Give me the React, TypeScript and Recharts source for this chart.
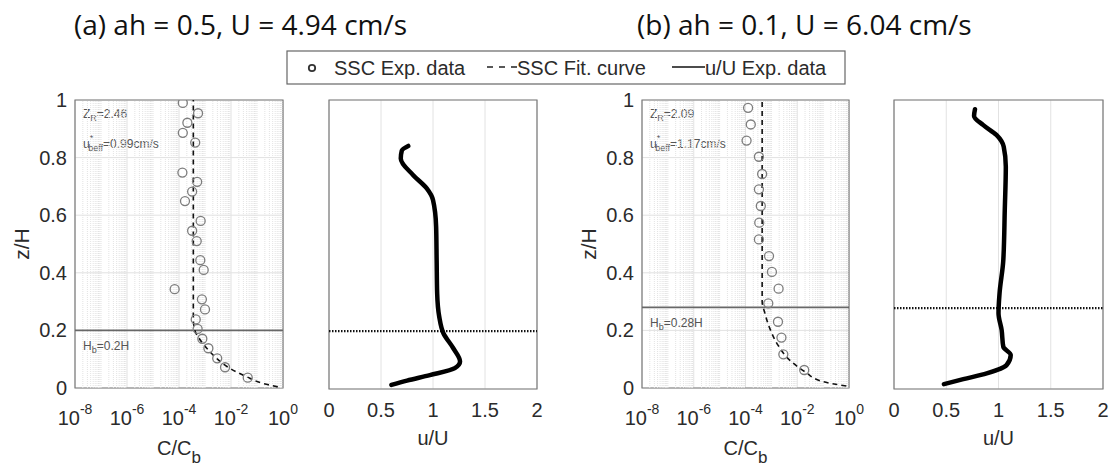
import {
  CartesianGrid,
  ComposedChart,
  Line,
  ReferenceArea,
  ReferenceLine,
  Scatter,
  XAxis,
  YAxis,
} from 'recharts';

const AXIS_FONT = '"Liberation Sans", Arial, sans-serif';
const TEXT = '#2b2b2b';
const BOX = '#7a7a7a';
const GRID = '#e2e2e2';

// [z/H, C/Cb]
const sscExpA: [number, number][] = [
  [0.036, 4.4e-2], [0.072, 5.9e-3], [0.103, 2.95e-3], [0.138, 1.35e-3], [0.171, 7.9e-4],
  [0.205, 5.2e-4], [0.238, 4.4e-4], [0.273, 1.0e-3], [0.308, 7.6e-4], [0.343, 6.8e-5],
  [0.41, 8.9e-4], [0.444, 6.6e-4], [0.51, 4.8e-4], [0.546, 3.2e-4], [0.58, 6.8e-4],
  [0.649, 1.7e-4], [0.682, 3.2e-4], [0.716, 5.0e-4], [0.748, 1.35e-4], [0.852, 4.2e-4],
  [0.886, 1.4e-4], [0.921, 2.1e-4], [0.954, 5.4e-4], [0.99, 1.4e-4],
];
const sscFitA: [number, number][] = [
  [0.004, 0.63], [0.016, 0.17], [0.039, 0.04], [0.068, 9.1e-3], [0.103, 2.8e-3],
  [0.138, 1.17e-3], [0.172, 6.0e-4], [0.196, 4.2e-4], [0.24, 3.55e-4], [1.0, 3.55e-4],
];
const sscExpB: [number, number][] = [
  [0.0625, 1.86e-2], [0.117, 2.9e-3], [0.175, 2.45e-3], [0.23, 1.8e-3], [0.294, 7.6e-4],
  [0.345, 1.9e-3], [0.403, 1.05e-3], [0.458, 8.1e-4], [0.516, 3.3e-4], [0.574, 3.4e-4],
  [0.632, 3.9e-4], [0.69, 3.3e-4], [0.743, 4.4e-4], [0.803, 3.3e-4], [0.859, 1.1e-4],
  [0.915, 1.6e-4], [0.973, 1.26e-4],
];
const sscFitB: [number, number][] = [
  [0.007, 0.79], [0.022, 0.1], [0.057, 1.95e-2], [0.097, 5.1e-3], [0.149, 1.8e-3],
  [0.207, 8.7e-4], [0.26, 5.6e-4], [0.3, 4.4e-4], [1.0, 4.4e-4],
];

// [z/H, u/U]
const velA: [number, number][] = [
  [0.014, 0.6], [0.029, 0.75], [0.048, 0.97], [0.072, 1.21], [0.095, 1.26], [0.141, 1.195],
  [0.193, 1.1], [0.25, 1.06], [0.331, 1.04], [0.446, 1.035], [0.562, 1.03], [0.654, 1.0],
  [0.694, 0.94], [0.74, 0.81], [0.798, 0.69], [0.825, 0.7], [0.841, 0.762],
];
const velB: [number, number][] = [
  [0.017, 0.478], [0.034, 0.663], [0.054, 0.887], [0.083, 1.078], [0.118, 1.117], [0.146, 1.046],
  [0.204, 1.03], [0.262, 1.0], [0.331, 1.01], [0.446, 1.046], [0.619, 1.06], [0.769, 1.07],
  [0.838, 1.05], [0.879, 0.98], [0.913, 0.855], [0.945, 0.766], [0.968, 0.775],
];

const logTicks = [1e-8, 1e-6, 1e-4, 1e-2, 1];
const zTicks = [0, 0.2, 0.4, 0.6, 0.8, 1];
const uTicks = [0, 0.5, 1, 1.5, 2];

const cases = [
  { title: '(a) ah = 0.5, U = 4.94 cm/s', zR: '2.46', uStar: '0.99', hb: 0.2, hbText: '0.2H',
    exp: sscExpA, fit: sscFitA, vel: velA },
  { title: '(b) ah = 0.1, U = 6.04 cm/s', zR: '2.09', uStar: '1.17', hb: 0.28, hbText: '0.28H',
    exp: sscExpB, fit: sscFitB, vel: velB },
];

// minor log grid: 2..9 x 10^n, plus the unlabelled decades
const minorLog: number[] = [];
for (let n = -8; n < 0; n++) {
  for (let k = 1; k < 10; k++) {
    if (k === 1 && n % 2 === 0) continue;
    minorLog.push(k * Math.pow(10, n));
  }
}

const toSsc = (rows: [number, number][]) => rows.map(([z, c]) => ({ z, c }));
const toVel = (rows: [number, number][]) => rows.map(([z, u]) => ({ z, u }));

function LogTick({ x, y, payload }: any) {
  const exp = Math.round(Math.log10(payload.value));
  return (
    <text x={x} y={y + 37} textAnchor="middle" fill={TEXT} fontSize={20} fontFamily={AXIS_FONT}>
      10<tspan dy={-11} fontSize={14}>{exp}</tspan>
    </text>
  );
}

function NumTick({ x, y, payload }: any) {
  return (
    <text x={x} y={y + 28} textAnchor="middle" fill={TEXT} fontSize={20} fontFamily={AXIS_FONT}>
      {payload.value}
    </text>
  );
}

function ZTick({ x, y, payload }: any) {
  return (
    <text x={x - 8} y={y} dy="0.35em" textAnchor="end" fill={TEXT} fontSize={20} fontFamily={AXIS_FONT}>
      {payload.value}
    </text>
  );
}

const OpenCircle = (p: any) => (
  <circle cx={p.cx} cy={p.cy} r={4.5} fill="none" stroke="#7d7d7d" strokeWidth={1.3} />
);

const PLOT_TOP = 100;
const PAD_L = 75;
const PAD_T = 10;
const PAD_R = 30;
const X_AXIS_H = 80;

function SscPanel({ left, width, height, c }: { left: number; width: number; height: number; c: typeof cases[0] }) {
  return (
    <div style={{ position: 'absolute', left: left - PAD_L, top: PLOT_TOP - PAD_T }}>
      <ComposedChart
        width={PAD_L + width + PAD_R}
        height={PAD_T + height + X_AXIS_H}
        margin={{ top: PAD_T, right: PAD_R, left: 15, bottom: 0 }}
      >
        <CartesianGrid stroke={GRID} />
        {minorLog.map((v) => (
          <ReferenceLine key={v} x={v} stroke="#e3e3e3" strokeDasharray="1 1" />
        ))}
        <XAxis
          dataKey="c"
          type="number"
          scale="log"
          domain={[1e-8, 1]}
          ticks={logTicks}
          interval={0}
          allowDataOverflow
          axisLine={false}
          tickLine={false}
          tickSize={0}
          tickMargin={0}
          height={X_AXIS_H}
          tick={LogTick}
          label={(p: any) => {
            const vb = p.viewBox;
            return (
              <text x={vb.x + vb.width / 2} y={vb.y + 67} textAnchor="middle" fill={TEXT} fontSize={20} fontFamily={AXIS_FONT}>
                C/C<tspan dy={8} fontSize={17}>b</tspan>
              </text>
            );
          }}
        />
        <YAxis
          dataKey="z"
          type="number"
          domain={[0, 1]}
          ticks={zTicks}
          interval={0}
          allowDataOverflow
          axisLine={false}
          tickLine={false}
          tickSize={0}
          tickMargin={0}
          width={60}
          tick={ZTick}
          label={(p: any) => {
            const vb = p.viewBox;
            const cx = vb.x + vb.width - 53;
            const cy = vb.y + vb.height / 2;
            return (
              <text x={cx} y={cy} transform={`rotate(-90 ${cx} ${cy})`} dy="0.35em" textAnchor="middle" fill={TEXT} fontSize={21} fontFamily={AXIS_FONT}>
                z/H
              </text>
            );
          }}
        />
        <ReferenceLine
          y={c.hb}
          stroke="#686868"
          strokeWidth={1.8}
          label={(p: any) => (
            <text x={p.viewBox.x + 8} y={p.viewBox.y + 20} fill="#555" fontSize={12} fontFamily={AXIS_FONT}>
              H<tspan dy={3} fontSize={9}>b</tspan><tspan dy={-3}>={c.hbText}</tspan>
            </text>
          )}
        />
        <Line
          data={toSsc(c.fit)}
          dataKey="z"
          type="monotoneY"
          stroke="#111"
          strokeWidth={1.6}
          strokeDasharray="5 4"
          dot={false}
          isAnimationActive={false}
        />
        <Scatter data={toSsc(c.exp)} dataKey="z" shape={OpenCircle} isAnimationActive={false} />
        <ReferenceArea
          x1={1e-8}
          x2={1}
          y1={0}
          y2={1}
          fill="none"
          fillOpacity={0}
          stroke={BOX}
          strokeWidth={1.2}
          label={(p: any) => {
            const vb = p.viewBox;
            return (
              <g fill="#555" fontSize={12} fontFamily={AXIS_FONT}>
                <text x={vb.x + 8} y={vb.y + 18}>
                  Z<tspan dy={3} fontSize={9}>R</tspan><tspan dy={-3}>={c.zR}</tspan>
                </text>
                <text x={vb.x + 8} y={vb.y + 48}>
                  u<tspan dy={-7} fontSize={9}>*</tspan><tspan dy={10} dx={-5} fontSize={9}>beff</tspan>
                  <tspan dy={-3}>={c.uStar}cm/s</tspan>
                </text>
              </g>
            );
          }}
        />
      </ComposedChart>
    </div>
  );
}

function VelPanel({ left, width, height, c }: { left: number; width: number; height: number; c: typeof cases[0] }) {
  return (
    <div style={{ position: 'absolute', left: left - PAD_L, top: PLOT_TOP - PAD_T }}>
      <ComposedChart
        width={PAD_L + width + PAD_R}
        height={PAD_T + height + X_AXIS_H}
        margin={{ top: PAD_T, right: PAD_R, left: 15, bottom: 0 }}
      >
        <CartesianGrid stroke={GRID} />
        <XAxis
          dataKey="u"
          type="number"
          domain={[0, 2]}
          ticks={uTicks}
          interval={0}
          allowDataOverflow
          axisLine={false}
          tickLine={false}
          tickSize={0}
          tickMargin={0}
          height={X_AXIS_H}
          tick={NumTick}
          label={(p: any) => {
            const vb = p.viewBox;
            return (
              <text x={vb.x + vb.width / 2} y={vb.y + 56} textAnchor="middle" fill={TEXT} fontSize={20} fontFamily={AXIS_FONT}>
                u/U
              </text>
            );
          }}
        />
        <YAxis
          dataKey="z"
          type="number"
          domain={[0, 1]}
          ticks={zTicks}
          interval={0}
          allowDataOverflow
          axisLine={false}
          tickLine={false}
          tick={false}
          width={60}
        />
        <ReferenceLine y={c.hb} stroke="#111" strokeWidth={2.2} strokeDasharray="1.5 1.5" />
        <Line
          data={toVel(c.vel)}
          dataKey="z"
          type="monotoneY"
          stroke="#000"
          strokeWidth={4.5}
          strokeLinecap="round"
          dot={false}
          isAnimationActive={false}
        />
        <ReferenceArea x1={0} x2={2} y1={0} y2={1} fill="none" fillOpacity={0} stroke={BOX} strokeWidth={1.2} />
      </ComposedChart>
    </div>
  );
}

function Legend() {
  return (
    <g fontFamily={AXIS_FONT} fontSize={20} fill="#2b2b2b">
      <rect x={287} y={51} width={558} height={33} fill="#fff" stroke="#666" strokeWidth={1.2} />
      <circle cx={312} cy={68} r={3.2} fill="none" stroke="#333" strokeWidth={1.8} />
      <text x={334} y={75}>SSC Exp. data</text>
      <line x1={487} x2={518} y1={67} y2={67} stroke="#222" strokeWidth={1.5} strokeDasharray="6 6" />
      <text x={517} y={75}>SSC Fit. curve</text>
      <line x1={672} x2={705} y1={67} y2={67} stroke="#111" strokeWidth={1.6} />
      <text x={705} y={75}>u/U Exp. data</text>
    </g>
  );
}

export default function App() {
  const [a, b] = cases;
  return (
    <div style={{ position: 'absolute', left: 0, top: 0, width: 1110, height: 466, background: '#fff', overflow: 'hidden' }}>
      <SscPanel left={75} width={208} height={288} c={a} />
      <VelPanel left={329} width={208} height={289} c={a} />
      <SscPanel left={642} width={207} height={288} c={b} />
      <VelPanel left={894} width={209} height={289} c={b} />
      <svg width={1110} height={95} style={{ position: 'absolute', left: 0, top: 0 }}>
        <g fontFamily="'Open Sans', Lato, sans-serif" fontSize={28} fill="#111">
          <text x={74} y={35}>{a.title}</text>
          <text x={637} y={35}>{b.title}</text>
        </g>
        <Legend />
      </svg>
    </div>
  );
}
